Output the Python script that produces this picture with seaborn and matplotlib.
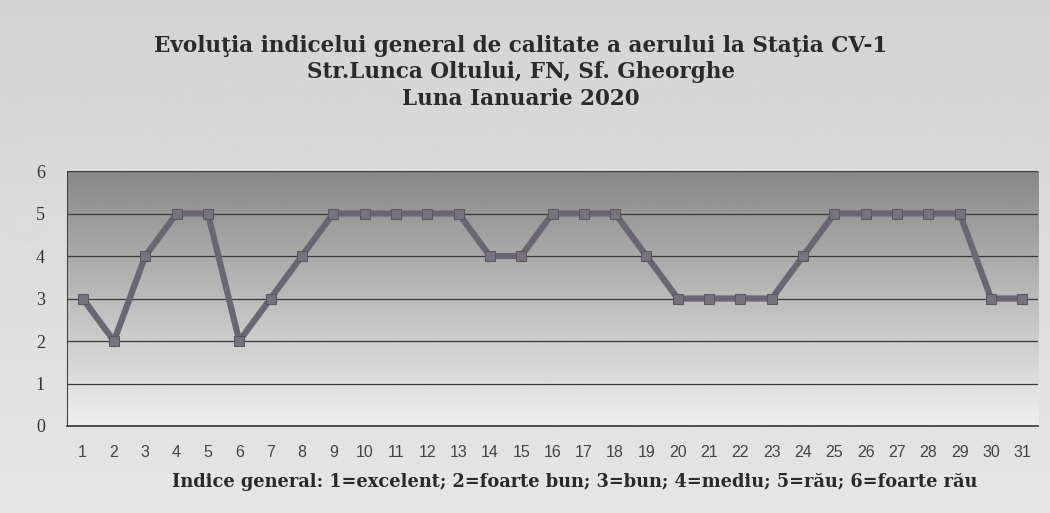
import seaborn as sns
import matplotlib.pyplot as plt
import numpy as np
import pandas as pd

# Daily general air quality index, January 2020
days = list(range(1, 32))
indice = [3, 2, 4, 5, 5, 2, 3, 4, 5, 5, 5, 5, 5, 4, 4, 5, 5, 5, 4, 3,
          3, 3, 3, 4, 5, 5, 5, 5, 5, 3, 3]
yticks = [0, 1, 2, 3, 4, 5, 6]

df = pd.DataFrame({'Zi': days, 'Indice': indice})

sns.set_style('white')
plt.rcParams['font.family'] = ['Liberation Serif', 'DejaVu Serif']

fig = plt.figure(figsize=(10.5, 5.13), dpi=100)
# light gray page background
bg = fig.add_axes([0, 0, 1, 1], zorder=-10)
bg.imshow(np.linspace(0.83, 0.90, 256).reshape(-1, 1), cmap='gray', vmin=0, vmax=1,
          aspect='auto', extent=[0, 1, 0, 1])
bg.axis('off')

ax = fig.add_axes([0.0638, 0.1696, 0.9248, 0.497])
ax.set_xlim(0.5, 31.5)
ax.set_ylim(0, 6)

# plot area gradient, dark at top
grad = np.linspace(0.94, 0.53, 256).reshape(-1, 1)
ax.imshow(grad, cmap='gray', vmin=0, vmax=1, aspect='auto',
          extent=[0.5, 31.5, 0, 6], origin='lower', zorder=0)

for y in yticks[1:]:
    ax.axhline(y, color='#3a3a3a', lw=0.9, zorder=1)

sns.lineplot(data=df, x='Zi', y='Indice', ax=ax, color='#6c6672', lw=4.5,
             marker='s', markersize=7, markerfacecolor='#77727c',
             markeredgecolor='#5a5660', zorder=3)

ax.set_xticks(days)
ax.set_xticklabels([str(d) for d in days], family='Liberation Sans', fontsize=11.5,
                   color='#444444')
ax.set_xticks(np.arange(0.5, 32, 1), minor=True)
ax.tick_params(axis='x', which='major', length=0, pad=14)
ax.tick_params(axis='x', which='minor', length=5, width=1, color='#333333', direction='out')
ax.set_yticks(yticks)
ax.set_yticklabels([str(v) for v in yticks], fontsize=13, color='#333333')
ax.tick_params(axis='y', length=6, width=1, color='#333333', direction='out', pad=10)

for s in ['top', 'right']:
    ax.spines[s].set_visible(False)
ax.spines['left'].set_color('#444444')
ax.spines['bottom'].set_color('#333333')
ax.spines['bottom'].set_linewidth(1.2)
ax.set_xlabel('')
ax.set_ylabel('')

title_lines = ['Evoluţia indicelui general de calitate a aerului la Staţia CV-1',
               'Str.Lunca Oltului, FN, Sf. Gheorghe',
               'Luna Ianuarie 2020']
for txt, yy in zip(title_lines, [0.8986, 0.848, 0.795]):
    fig.text(0.496, yy, txt, ha='center', va='baseline', fontsize=15.5,
             fontweight='bold', color='#2a2a2a', family='DejaVu Serif')
fig.text(0.547, 0.0507,
         'Indice general: 1=excelent; 2=foarte bun; 3=bun; 4=mediu; 5=rău; 6=foarte rău',
         ha='center', va='baseline', fontsize=12.8, fontweight='bold', color='#2a2a2a',
         family='DejaVu Serif')

fig.savefig('out.png', dpi=100)
